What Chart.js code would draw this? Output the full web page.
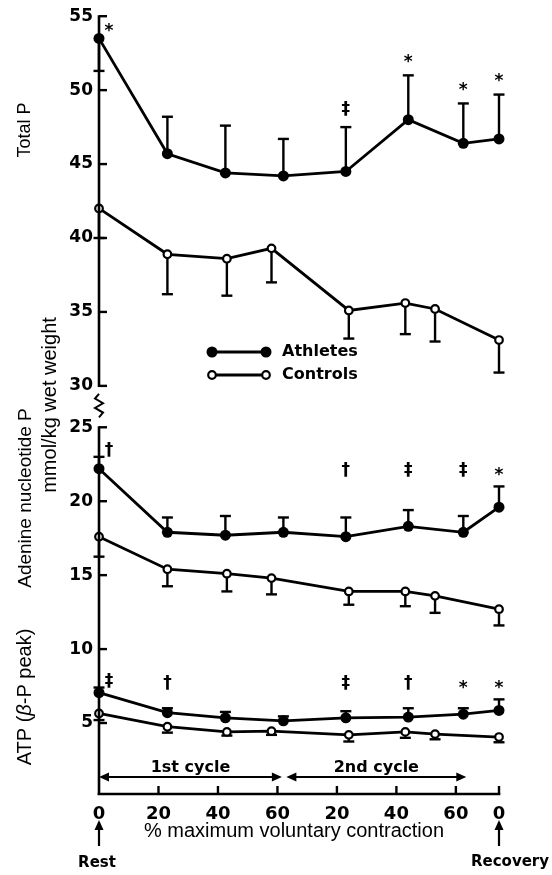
<!DOCTYPE html>
<html>
<head>
<meta charset="utf-8">
<script src="https://cdn.jsdelivr.net/npm/chart.js@4.4.1/dist/chart.umd.min.js"></script>
<style>
  html, body { margin: 0; padding: 0; background: #fff; }
  #wrap { width: 552px; height: 875px; }
</style>
</head>
<body>
<div id="wrap"><canvas id="grafico" width="552" height="875"></canvas></div>
<script>
// eixo x: 0 = repouso, 1o ciclo 0..60, 2o ciclo continua em 80..120, recuperacao no fim
const REC = 134.5
const xTickPos = [0, 20, 40, 60, 80, 100, 120, REC]
const xTickLabels = ['0', '20', '40', '60', '20', '40', '60', '0']
const athletesX = [0, 23, 42.5, 62, 83, 104, 122.5, REC]
const controlsX = [0, 23, 43, 58, 84, 103, 113, REC]

// eixo y com quebra entre 25 e 30
const yTicksLow = [5, 10, 15, 20, 25]
const yTicksHigh = [30, 35, 40, 45, 50, 55]
const BREAK_SHIFT = 2.2

const groups = ['Athletes', 'Controls']
const panelTitles = ['Total P', 'Adenine nucleotide P', 'ATP (β-P peak)']
const unitTitle = 'mmol/kg wet weight'
const xTitle = '% maximum voluntary contraction'

// Total P  (SD negativo = barra desenhada para baixo)
const totalPAthletes = [53.5, 45.7, 44.4, 44.2, 44.5, 48.0, 46.4, 46.7]
const totalPAthletesSD = [-2.2, 2.5, 3.2, 2.5, 3.0, 3.0, 2.7, 3.0]
const totalPControls = [42.0, 38.9, 38.6, 39.3, 35.1, 35.6, 35.2, 33.1]
const totalPControlsSD = [2.0, 2.7, 2.5, 2.3, 1.9, 2.1, 2.2, 2.2]
const totalPSig = ['*', '', '', '', '‡', '*', '*', '*']

// Adenine nucleotide P
const adnAthletes = [22.2, 17.9, 17.7, 17.9, 17.6, 18.3, 17.9, 19.6]
const adnAthletesSD = [0.8, 1.0, 1.3, 1.0, 1.3, 1.1, 1.1, 1.4]
const adnControls = [17.6, 15.4, 15.1, 14.8, 13.9, 13.9, 13.6, 12.7]
const adnControlsSD = [1.35, 1.15, 1.2, 1.1, 0.9, 1.0, 1.15, 1.1]
const adnSig = ['†', '', '', '', '†', '‡', '‡', '*']

// ATP (beta-P peak)
const atpAthletes = [7.05, 5.7, 5.35, 5.15, 5.35, 5.4, 5.6, 5.85]
const atpAthletesSD = [0.35, 0.3, 0.4, 0.3, 0.45, 0.6, 0.4, 0.75]
const atpControls = [5.65, 4.75, 4.4, 4.45, 4.2, 4.4, 4.25, 4.05]
const atpControlsSD = [0.45, 0.4, 0.25, 0.25, 0.45, 0.4, 0.35, 0.35]
const atpSig = ['‡', '†', '', '', '‡', '†', '*', '*']

const cycles = [{ nome: '1st cycle', de: 0, ate: 61.5 }, { nome: '2nd cycle', de: 63, ate: 123.5 }]

const BOLD = '"DejaVu Sans", sans-serif'
const REG = '"Liberation Sans", Arial, sans-serif'

const paineis = [
  { a: totalPAthletes, aSD: totalPAthletesSD, c: totalPControls, cSD: totalPControlsSD, sig: totalPSig, shift: BREAK_SHIFT, linha: false },
  { a: adnAthletes, aSD: adnAthletesSD, c: adnControls, cSD: adnControlsSD, sig: adnSig, shift: 0, linha: true },
  { a: atpAthletes, aSD: atpAthletesSD, c: atpControls, cSD: atpControlsSD, sig: atpSig, shift: 0, linha: true }
]

const datasets = []
paineis.forEach(p => {
  datasets.push({
    label: groups[0],
    data: athletesX.map((x, i) => ({ x, y: p.a[i] - p.shift })),
    borderColor: '#000', borderWidth: 2.8,
    pointRadius: 5.5, pointBackgroundColor: '#000', pointBorderWidth: 0,
    clip: false
  })
  datasets.push({
    label: groups[1],
    data: controlsX.map((x, i) => ({ x, y: p.c[i] - p.shift })),
    borderColor: '#000', borderWidth: 2.8,
    pointRadius: 3.8, pointBackgroundColor: '#fff', pointBorderColor: '#000', pointBorderWidth: 2.2,
    clip: false
  })
})

function linha(ctx, x1, y1, x2, y2) {
  ctx.beginPath(); ctx.moveTo(x1, y1); ctx.lineTo(x2, y2); ctx.stroke()
}

function seta(ctx, x, y, dx, dy) {
  // ponta de seta em (x, y) apontando na direcao (dx, dy)
  const L = 10, W = 4.5
  ctx.beginPath()
  ctx.moveTo(x, y)
  ctx.lineTo(x - dx * L - dy * W, y - dy * L + dx * W)
  ctx.lineTo(x - dx * L + dy * W, y - dy * L - dx * W)
  ctx.closePath(); ctx.fill()
}

function barras(ctx, sx, sy, xs, ys, sds, dir, shift) {
  ctx.lineWidth = 2.4
  xs.forEach((x, i) => {
    const px = sx.getPixelForValue(x)
    const p0 = sy.getPixelForValue(ys[i] - shift)
    const p1 = sy.getPixelForValue(ys[i] + sds[i] * dir - shift)
    linha(ctx, px, p0, px, p1)
    linha(ctx, px - 5.5, p1, px + 5.5, p1)
  })
}

const desenho = {
  id: 'desenho',
  beforeDatasetsDraw(chart) {
    const ctx = chart.ctx, sx = chart.scales.x, sy = chart.scales.y
    ctx.save()
    ctx.strokeStyle = '#000'
    paineis.forEach(p => {
      barras(ctx, sx, sy, athletesX, p.a, p.aSD, 1, p.shift)
      barras(ctx, sx, sy, controlsX, p.c, p.cSD, -1, p.shift)
    })
    ctx.restore()
  },
  afterDraw(chart) {
    const ctx = chart.ctx, sx = chart.scales.x, sy = chart.scales.y
    const area = chart.chartArea
    const ax = area.left, bottom = area.bottom
    ctx.save()
    ctx.strokeStyle = '#000'; ctx.fillStyle = '#000'
    ctx.lineWidth = 2.6; ctx.lineCap = 'butt'

    // eixo y em dois trechos + quebra
    const yTop = sy.getPixelForValue(yTicksHigh[yTicksHigh.length - 1] - BREAK_SHIFT)
    const y30 = sy.getPixelForValue(yTicksHigh[0] - BREAK_SHIFT)
    const y25 = sy.getPixelForValue(yTicksLow[yTicksLow.length - 1])
    linha(ctx, ax, yTop - 1, ax, y30 + 1)
    linha(ctx, ax, y25 - 1, ax, bottom + 1)
    ctx.lineWidth = 2
    ctx.beginPath()
    const zTop = y30 + 8, zBot = y25 - 10, n = 5
    ctx.moveTo(ax, zTop)
    for (let k = 1; k < n; k++) ctx.lineTo(ax + (k % 2 ? -4 : 4), zTop + (zBot - zTop) * k / n)
    ctx.lineTo(ax, zBot)
    ctx.stroke()

    // marcas do eixo y (para dentro)
    ctx.lineWidth = 2.4
    yTicksLow.forEach(v => { const py = sy.getPixelForValue(v); linha(ctx, ax, py, ax + 8, py) })
    yTicksHigh.forEach(v => { const py = sy.getPixelForValue(v - BREAK_SHIFT); linha(ctx, ax, py, ax + 8, py) })

    // eixo x
    ctx.lineWidth = 2.6
    linha(ctx, ax - 1.3, bottom, area.right + 1.3, bottom)
    ctx.lineWidth = 2.4
    xTickPos.slice(1).forEach(v => { const px = sx.getPixelForValue(v); linha(ctx, px, bottom, px, bottom - 8) })

    // setas dos ciclos
    ctx.lineWidth = 2.2
    ctx.font = 'bold 16px ' + BOLD
    ctx.textAlign = 'center'; ctx.textBaseline = 'alphabetic'
    cycles.forEach(c => {
      const x1 = sx.getPixelForValue(c.de), x2 = sx.getPixelForValue(c.ate), y = bottom - 17
      linha(ctx, x1 + 4, y, x2 - 4, y)
      seta(ctx, x1, y, -1, 0)
      seta(ctx, x2, y, 1, 0)
      ctx.fillText(c.nome, (x1 + x2) / 2, y - 5)
    })

    // Rest / Recovery
    ctx.lineWidth = 2.2
    ctx.font = 'bold 15px ' + BOLD
    const xr = sx.getPixelForValue(0), xc = sx.getPixelForValue(REC)
    linha(ctx, xr, bottom + 52, xr, bottom + 30); seta(ctx, xr, bottom + 26, 0, -1)
    linha(ctx, xc, bottom + 52, xc, bottom + 30); seta(ctx, xc, bottom + 26, 0, -1)
    ctx.textBaseline = 'middle'
    ctx.fillText('Rest', xr - 2, bottom + 69)
    ctx.fillText('Recovery', xc + 11, bottom + 68)

    // titulo do eixo x
    ctx.font = '20px ' + REG
    ctx.fillText(xTitle, 294, bottom + 37)

    // simbolos de significancia
    ctx.font = 'bold 17px ' + BOLD
    paineis.forEach(p => {
      const caps = p.a.map((v, i) => {
        const pt = sy.getPixelForValue(v - p.shift)
        const cp = sy.getPixelForValue(v + Math.max(p.aSD[i], 0) - p.shift)
        return Math.min(pt - 5.5, cp)
      })
      const row = Math.min(...caps.slice(1)) - 16
      p.sig.forEach((s, i) => {
        if (!s) return
        let px = sx.getPixelForValue(athletesX[i]), py
        if (i === 0) { px += 10; py = caps[0] - 6 }
        else py = p.linha ? row : caps[i] - 18
        if (s === '*') py += 5
        ctx.fillText(s, px, py)
      })
    })

    // legenda
    const lx1 = 212, lx2 = 266, ly = [352, 375]
    groups.forEach((g, k) => {
      ctx.lineWidth = 2.8
      linha(ctx, lx1, ly[k], lx2, ly[k])
      ;[lx1, lx2].forEach(mx => {
        ctx.beginPath()
        if (k === 0) { ctx.arc(mx, ly[k], 5.5, 0, Math.PI * 2); ctx.fill() }
        else {
          ctx.arc(mx, ly[k], 3.8, 0, Math.PI * 2)
          ctx.fillStyle = '#fff'; ctx.fill(); ctx.lineWidth = 2.2; ctx.stroke(); ctx.fillStyle = '#000'
        }
      })
      ctx.font = 'bold 16px ' + BOLD
      ctx.textAlign = 'left'; ctx.textBaseline = 'middle'
      ctx.fillText(g, 282, ly[k])
    })

    // titulos do eixo y (rotacionados)
    const vertical = (partes, cx, cy, tam) => {
      ctx.save()
      ctx.translate(cx, cy); ctx.rotate(-Math.PI / 2)
      ctx.textAlign = 'left'; ctx.textBaseline = 'middle'
      const fontes = partes.map(pp => (pp.it ? 'italic ' : '') + tam + 'px ' + REG)
      let total = 0
      partes.forEach((pp, k) => { ctx.font = fontes[k]; total += ctx.measureText(pp.t).width })
      let x = -total / 2
      partes.forEach((pp, k) => { ctx.font = fontes[k]; ctx.fillText(pp.t, x, 0); x += ctx.measureText(pp.t).width })
      ctx.restore()
    }
    vertical([{ t: panelTitles[0] }], 25, 130, 18)
    vertical([{ t: panelTitles[1] }], 26, 498, 19)
    vertical([{ t: unitTitle }], 50, 405, 20)
    const atp = panelTitles[2].split('β')
    vertical([{ t: atp[0] }, { t: 'β', it: true }, { t: atp[1] }], 25, 697, 20)

    ctx.restore()
  }
}

new Chart(document.getElementById('grafico'), {
  type: 'line',
  data: { datasets },
  options: {
    responsive: false,
    animation: false,
    layout: { padding: { top: 15, right: 53, bottom: 0, left: 0 } },
    plugins: { legend: { display: false }, tooltip: { enabled: false } },
    scales: {
      x: {
        type: 'linear', min: 0, max: REC,
        grid: { display: false, drawTicks: false },
        border: { display: false },
        afterBuildTicks: s => { s.ticks = xTickPos.map(v => ({ value: v })) },
        afterFit: s => { s.height = 81 },
        ticks: {
          autoSkip: false, maxRotation: 0, padding: 10, color: '#000',
          font: { family: BOLD, size: 18, weight: 'bold' },
          callback: (v, i) => xTickLabels[i]
        }
      },
      y: {
        type: 'linear', min: 0.2, max: yTicksHigh[yTicksHigh.length - 1] - BREAK_SHIFT,
        grid: { display: false, drawTicks: false },
        border: { display: false },
        afterBuildTicks: s => {
          s.ticks = yTicksLow.concat(yTicksHigh.map(v => v - BREAK_SHIFT)).map(v => ({ value: v }))
        },
        afterFit: s => { s.width = 99 },
        ticks: {
          autoSkip: false, padding: 6, color: '#000',
          font: { family: BOLD, size: 17, weight: 'bold' },
          callback: (v, i) => yTicksLow.concat(yTicksHigh)[i]
        }
      }
    }
  },
  plugins: [desenho]
})
</script>
</body>
</html>
